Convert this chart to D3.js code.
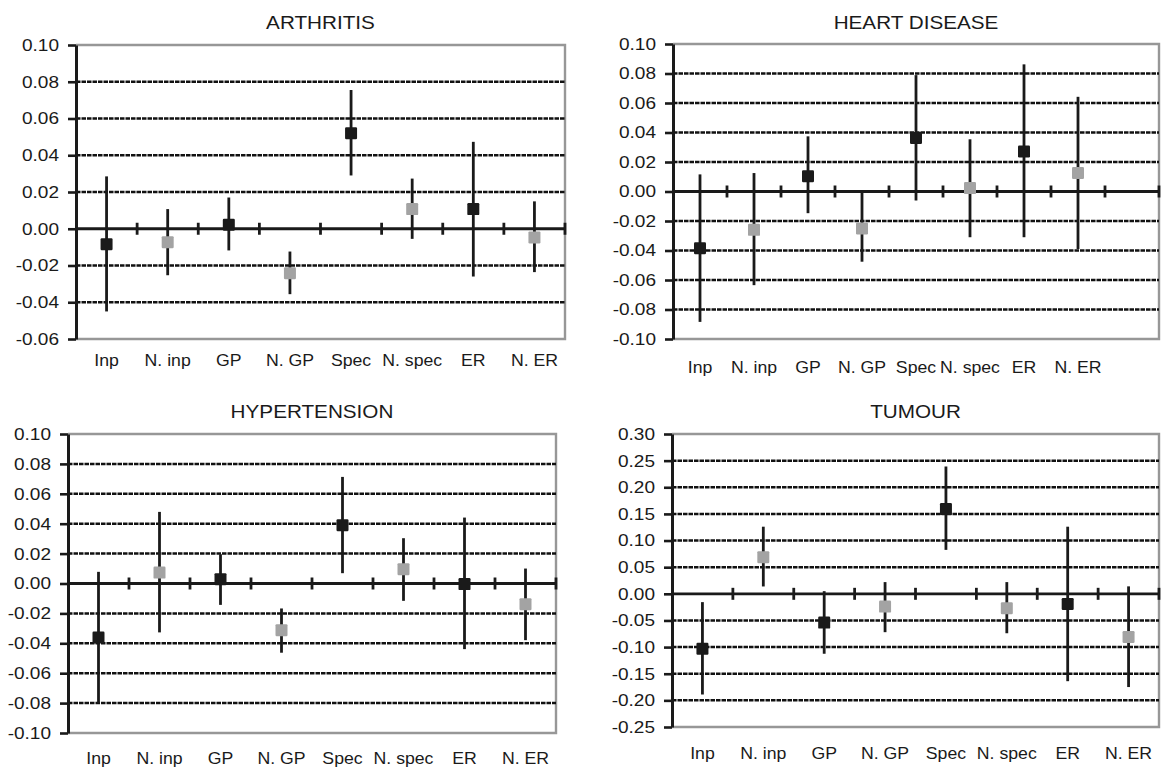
<!DOCTYPE html>
<html lang="en">
<head>
  <meta charset="UTF-8">
  <title>Error bar panels</title>
  <style>
    body { margin: 0; background: #fff; }
    svg { display: block; }
    text { font-family: "Liberation Sans", Arial, sans-serif; fill: #1a1a1a; }
  </style>
</head>
<body>
  <svg width="1161" height="768"></svg>
  <script src="https://d3js.org/d3.v7.min.js"></script>
  <script>
    // categories and shade (dark = own use, light = "N." counterpart)
    const categories = ["Inp", "N. inp", "GP", "N. GP", "Spec", "N. spec", "ER", "N. ER"];
    const shades = ["dark", "light", "dark", "light", "dark", "light", "dark", "light"];

    const arthritisEst  = [-0.0084, -0.0073, 0.0022, -0.0242, 0.0520, 0.0107, 0.0107, -0.0047];
    const arthritisLow  = [-0.0450, -0.0253, -0.0118, -0.0356, 0.0290, -0.0055, -0.0260, -0.0236];
    const arthritisHigh = [0.0285, 0.0107, 0.0170, -0.0124, 0.0755, 0.0273, 0.0473, 0.0149];

    const heartEst  = [-0.0385, -0.0260, 0.0104, -0.0250, 0.0363, 0.0023, 0.0272, 0.0125];
    const heartLow  = [-0.0884, -0.0635, -0.0147, -0.0476, -0.0061, -0.0310, -0.0310, -0.0390];
    const heartHigh = [0.0116, 0.0125, 0.0374, -0.0010, 0.0789, 0.0354, 0.0862, 0.0642];

    const hyperEst  = [-0.0361, 0.0073, 0.0029, -0.0312, 0.0390, 0.0096, -0.0004, -0.0138];
    const hyperLow  = [-0.0800, -0.0327, -0.0143, -0.0463, 0.0069, -0.0116, -0.0439, -0.0379];
    const hyperHigh = [0.0078, 0.0479, 0.0196, -0.0167, 0.0713, 0.0303, 0.0441, 0.0100];

    const tumourEst  = [-0.103, 0.0688, -0.054, -0.024, 0.159, -0.027, -0.019, -0.081];
    const tumourLow  = [-0.189, 0.0138, -0.1125, -0.072, 0.0825, -0.074, -0.164, -0.175];
    const tumourHigh = [-0.0156, 0.126, 0.005, 0.022, 0.239, 0.022, 0.126, 0.014];

    // y axis ranges [min, max, step]
    const arthritisTicks = [-0.06, 0.10, 0.02];
    const heartTicks = [-0.10, 0.10, 0.02];
    const hyperTicks = [-0.10, 0.10, 0.02];
    const tumourTicks = [-0.25, 0.30, 0.05];

    const panels = [
      { title: "ARTHRITIS", est: arthritisEst, low: arthritisLow, high: arthritisHigh, ticks: arthritisTicks,
        cats: categories, left: 76, right: 565, top: 45, bottom: 339, titleY: 29, labelY: 366 },
      { title: "HEART DISEASE", est: heartEst, low: heartLow, high: heartHigh, ticks: heartTicks,
        cats: categories.concat([""]), left: 673, right: 1159, top: 44, bottom: 339, titleY: 29, labelY: 373 },
      { title: "HYPERTENSION", est: hyperEst, low: hyperLow, high: hyperHigh, ticks: hyperTicks,
        cats: categories, left: 68, right: 556, top: 434, bottom: 733, titleY: 418, labelY: 764 },
      { title: "TUMOUR", est: tumourEst, low: tumourLow, high: tumourHigh, ticks: tumourTicks,
        cats: categories, left: 672, right: 1159, top: 434, bottom: 727, titleY: 418, labelY: 759 }
    ];

    const svg = d3.select("svg");
    const fmt = v => (Math.abs(v) < 1e-9 ? 0 : v).toFixed(2);
    const tickStretch = 1.12;

    function stretchedText(g, x, y, str, size, anchor, sx) {
      g.append("text")
        .attr("transform", "translate(" + x + "," + y + ") scale(" + sx + ",1)")
        .attr("text-anchor", anchor)
        .style("font-size", size + "px")
        .text(str);
    }

    panels.forEach(p => {
      const g = svg.append("g");
      const [lo, hi, step] = p.ticks;
      const tickVals = d3.range(Math.round((hi - lo) / step) + 1).map(i => +(lo + i * step).toFixed(4));

      const x = d3.scaleBand().domain(p.cats).range([p.left, p.right]);
      const y = d3.scaleLinear().domain([lo, hi]).range([p.bottom, p.top]);

      // plot frame (grey)
      g.append("path")
        .attr("d", "M" + p.left + "," + y(hi) + "H" + p.right + "V" + y(lo) + "H" + p.left)
        .attr("fill", "none")
        .attr("stroke", "#979797")
        .attr("stroke-width", 2.4);

      // dashed gridlines
      g.selectAll(".grid")
        .data(tickVals.filter(v => v !== lo && v !== hi && Math.abs(v) > 1e-9))
        .enter()
        .append("line")
        .attr("x1", p.left).attr("x2", p.right)
        .attr("y1", d => y(d)).attr("y2", d => y(d))
        .attr("stroke", "#111")
        .attr("stroke-width", 2.5)
        .attr("stroke-dasharray", "4.5,1");

      // zero line with category ticks
      g.append("line")
        .attr("x1", p.left).attr("x2", p.right)
        .attr("y1", y(0)).attr("y2", y(0))
        .attr("stroke", "#1a1a1a")
        .attr("stroke-width", 2.8);

      const bounds = p.cats.slice(1).map(c => x(c)).concat([p.right]);
      g.selectAll(".ztick")
        .data(bounds)
        .enter()
        .append("line")
        .attr("x1", d => d).attr("x2", d => d)
        .attr("y1", y(0) - 6).attr("y2", y(0) + 6)
        .attr("stroke", "#1a1a1a")
        .attr("stroke-width", 2.8);

      // y axis
      const axis = g.append("g")
        .attr("transform", "translate(" + p.left + ",0)")
        .call(d3.axisLeft(y).tickValues(tickVals).tickFormat(fmt).tickSize(8).tickSizeOuter(0));
      axis.select(".domain").attr("stroke", "#1a1a1a").attr("stroke-width", 3);
      axis.selectAll(".tick line").attr("stroke", "#1a1a1a").attr("stroke-width", 2.6);
      axis.selectAll(".tick text")
        .attr("x", -17 / tickStretch)
        .attr("transform", "scale(" + tickStretch + ",1)")
        .attr("fill", "#1a1a1a")
        .style("font-size", "17px")
        .style("font-family", "'Liberation Sans', Arial, sans-serif");

      // error bars
      const rows = p.est.map((v, i) => ({ cat: categories[i], est: v, low: p.low[i], high: p.high[i], shade: shades[i] }));
      g.selectAll(".err")
        .data(rows)
        .enter()
        .append("line")
        .attr("x1", d => x(d.cat) + x.bandwidth() / 2)
        .attr("x2", d => x(d.cat) + x.bandwidth() / 2)
        .attr("y1", d => y(d.low))
        .attr("y2", d => y(d.high))
        .attr("stroke", "#1a1a1a")
        .attr("stroke-width", 2.8);

      // markers
      g.selectAll(".pt")
        .data(rows)
        .enter()
        .append("rect")
        .attr("x", d => x(d.cat) + x.bandwidth() / 2 - 6)
        .attr("y", d => y(d.est) - 6)
        .attr("width", 12)
        .attr("height", 12)
        .attr("rx", 1.2)
        .attr("fill", d => d.shade === "dark" ? "#1a1a1a" : "#a3a3a3");

      // category labels
      categories.forEach(c => {
        stretchedText(g, x(c) + x.bandwidth() / 2, p.labelY, c, 17, "middle", 1.04);
      });

      // title
      stretchedText(g, (p.left + p.right) / 2, p.titleY, p.title, 18, "middle", 1.15);
    });
  </script>
</body>
</html>
